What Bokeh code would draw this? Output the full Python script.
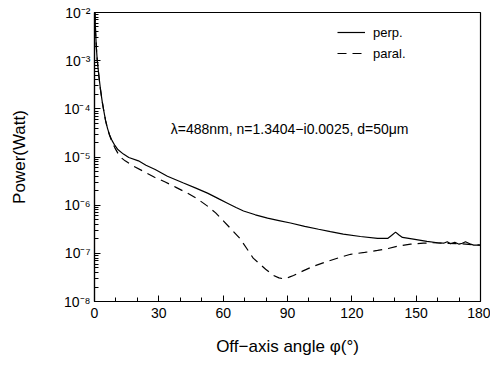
import numpy as np
from bokeh.plotting import figure
from bokeh.models import (Range1d, LogTicker, SingleIntervalTicker, CustomJSTickFormatter,
                          Label, Legend, LegendItem)
from bokeh.embed import file_html
from bokeh.resources import INLINE

# --- data (angle in degrees, power as log10(Watt)) ---
perp_angle = [0.2, 0.5, 0.9, 1.3, 2.0, 2.8, 3.6, 4.4, 5.2, 6.1, 7.1, 8.2, 9.5, 11,
              13.5, 16, 20.5, 24, 28.3,
              34, 41.5, 47, 52.7, 58, 62, 66, 69.5, 75, 80.7, 86, 91.4, 98, 104.5, 110,
              116, 124, 132, 136.7, 138.5, 140.4, 142, 143.6, 148, 155, 160, 162.8,
              164.5, 166, 168, 170, 171.5, 173, 175, 176.8, 180]
perp_log10 = [-2.0, -2.4, -2.75, -3.0, -3.3, -3.6, -3.85, -4.06, -4.25, -4.41, -4.55,
              -4.66, -4.76, -4.85, -4.94, -5.01, -5.08, -5.17, -5.26,
              -5.40, -5.54, -5.64, -5.75, -5.87, -5.96,
              -6.05, -6.12, -6.20, -6.27, -6.32, -6.37, -6.44, -6.50, -6.55, -6.60,
              -6.65, -6.69, -6.69, -6.63, -6.56, -6.62, -6.67, -6.70, -6.75, -6.78,
              -6.79, -6.76, -6.80, -6.77, -6.81, -6.79, -6.76, -6.80, -6.83, -6.83]

paral_angle = [0.2, 0.5, 0.9, 1.3, 2.0, 2.8, 3.6, 4.4, 5.2, 6.1, 7.1, 8.2, 9.5, 11,
               12.6, 14.3, 18.2, 24.2,
               28, 33, 38, 43.3, 48, 52.7, 56.5, 60.2, 64, 68, 71, 74, 77, 79.8, 83.5,
               86, 88.2, 90.5, 92.8, 97, 102, 108.5, 114, 119.4, 126, 132, 137, 141.3,
               147.4, 153.4, 158, 163, 170, 180]
paral_log10 = [-2.0, -2.4, -2.75, -3.0, -3.3, -3.6, -3.85, -4.06, -4.25, -4.42, -4.56,
               -4.69, -4.81, -4.93, -5.02, -5.08, -5.19, -5.33,
               -5.42, -5.52, -5.63, -5.75, -5.87, -6.02, -6.16,
               -6.33, -6.51, -6.70, -6.90, -7.10, -7.22, -7.33, -7.46, -7.51, -7.53,
               -7.50, -7.46, -7.37, -7.27, -7.17, -7.09, -7.02, -6.98, -6.94, -6.90,
               -6.85, -6.81, -6.79, -6.78, -6.79, -6.80, -6.83]

x_ticks = [0, 30, 60, 90, 120, 150, 180]
y_decades = [-8, -7, -6, -5, -4, -3, -2]
series_names = ["perp.", "paral."]
note_text = "\u03bb=488nm, n=1.3404\u2212i0.0025, d=50\u03bcm"

FONT = "Liberation Sans"

p = figure(width=490, height=366, output_backend="svg", toolbar_location=None,
           y_axis_type="log", x_range=Range1d(0, 180),
           y_range=Range1d(10.0 ** y_decades[0], 10.0 ** y_decades[-1]),
           min_border_left=94, min_border_right=10, min_border_top=12,
           min_border_bottom=65)
p.background_fill_color = "white"
p.border_fill_color = "white"
p.outline_line_color = "black"
p.outline_line_width = 1.2
p.grid.visible = False

perp_y = np.power(10.0, perp_log10)
paral_y = np.power(10.0, paral_log10)

r1 = p.line(perp_angle, perp_y, line_color="black", line_width=1.2)
r2 = p.line(paral_angle, paral_y, line_color="black", line_width=1.2, line_dash="9 6")

# x axis
xa = p.xaxis[0]
xa.ticker = SingleIntervalTicker(interval=30, num_minor_ticks=3)
xa.major_tick_in = 6
xa.major_tick_out = 0
xa.minor_tick_in = 4
xa.minor_tick_out = 0
xa.axis_line_width = 1.2
xa.major_label_text_font = FONT
xa.major_label_text_font_size = "14px"
xa.major_label_text_color = "black"
xa.major_label_standoff = 6
xa.axis_label = "Off\u2212axis angle \u03c6(\u00b0)"
xa.axis_label_text_font = FONT
xa.axis_label_text_font_style = "normal"
xa.axis_label_text_font_size = "17px"
xa.axis_label_text_color = "black"
xa.axis_label_standoff = 16

# y axis
ya = p.yaxis[0]
ya.ticker = LogTicker(num_minor_ticks=10)
ya.major_tick_in = 6
ya.major_tick_out = 0
ya.minor_tick_in = 4
ya.minor_tick_out = 0
ya.axis_line_width = 1.2
ya.formatter = CustomJSTickFormatter(code="""
const sup = {'-':'\u207b','0':'\u2070','1':'\u00b9','2':'\u00b2','3':'\u00b3','4':'\u2074',
             '5':'\u2075','6':'\u2076','7':'\u2077','8':'\u2078','9':'\u2079'};
const e = String(Math.round(Math.log10(tick)));
let s = '10';
for (const c of e) { s += sup[c]; }
return s;
""")
ya.major_label_text_font = FONT
ya.major_label_text_font_size = "14px"
ya.major_label_text_color = "black"
ya.major_label_standoff = 4
ya.axis_label = "Power(Watt)"
ya.axis_label_text_font = FONT
ya.axis_label_text_font_style = "normal"
ya.axis_label_text_font_size = "17px"
ya.axis_label_text_color = "black"
ya.axis_label_standoff = 32

# annotation
p.add_layout(Label(x=91, y=10.0 ** -4.42, text=note_text, text_font=FONT,
                   text_font_size="14px", text_align="center", text_baseline="middle",
                   text_color="black"))

legend = Legend(items=[LegendItem(label=series_names[0], renderers=[r1]),
                       LegendItem(label=series_names[1], renderers=[r2])],
                location=(243, 238), label_text_font=FONT, label_text_font_size="13px",
                label_text_color="black",
                border_line_color=None, background_fill_alpha=0,
                glyph_width=28, label_standoff=8, spacing=1, padding=4)
p.add_layout(legend, "center")

open("out.html", "w").write(file_html(p, INLINE))
